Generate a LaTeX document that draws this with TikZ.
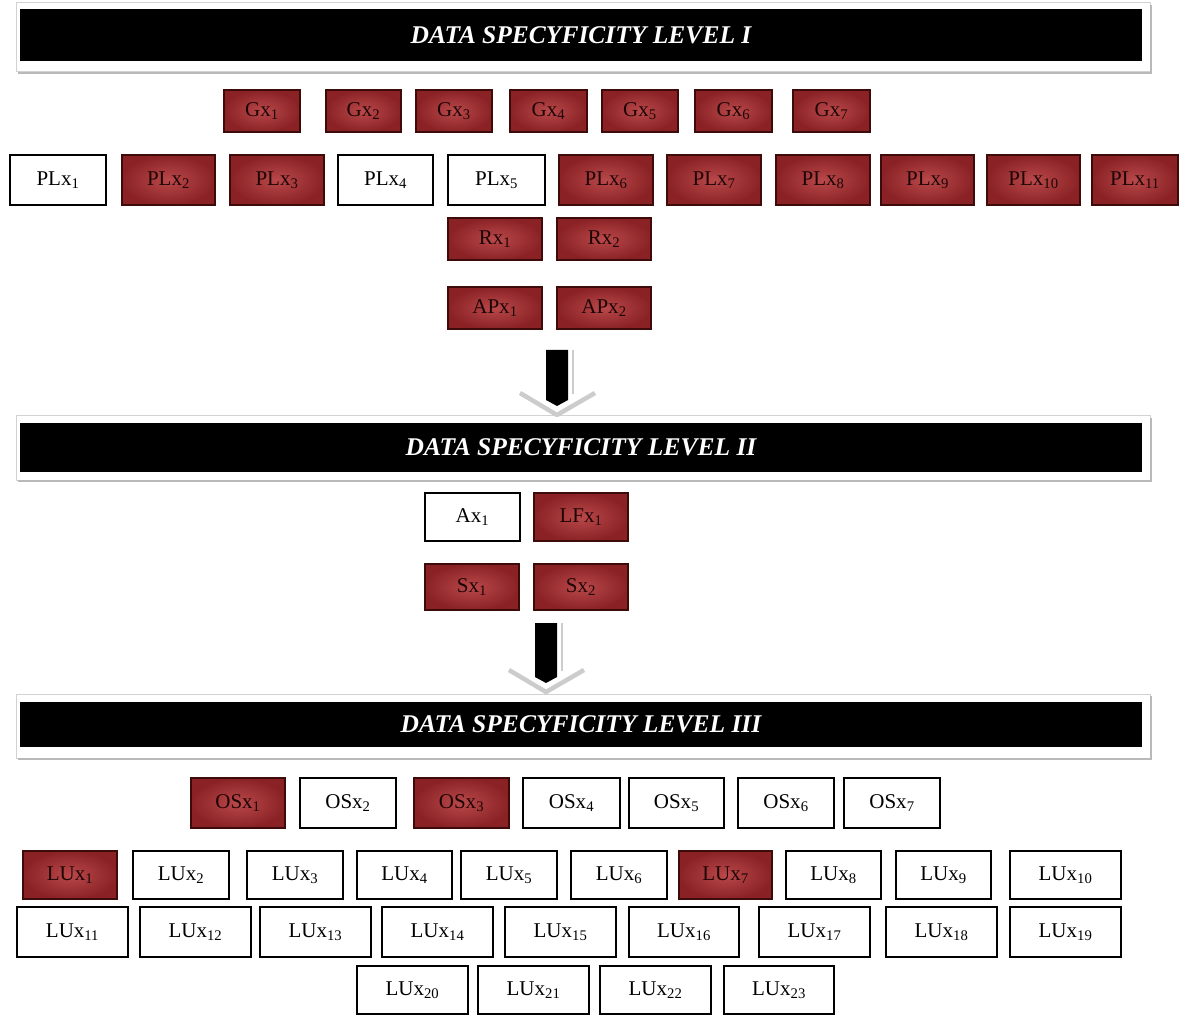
\documentclass[tikz,border=0pt]{standalone}
\usepackage{fontspec}
\setmainfont{Liberation Serif}
\definecolor{redin}{HTML}{B9484A}
\definecolor{redout}{HTML}{8A2225}
\definecolor{redline}{HTML}{3E0B0B}
\definecolor{redtext}{HTML}{1E0505}

\begin{document}
\begin{tikzpicture}[x=1pt,y=-1pt,
    box/.style={draw=black, line width=1.6pt, inner sep=0pt, fill=white,
        font=\fontsize{21}{24}\selectfont},
    redbox/.style={box, draw=redline, text=redtext, inner color=redin, outer color=redout},
    levelbar/.style={fill=black, text=white, inner sep=0pt, minimum width=1122pt,
        font=\fontsize{25.5}{29}\selectfont\bfseries\itshape},
    frame/.style={draw=gray!35, line width=1pt, fill=white},
    chevron/.style={draw=gray!40, line width=4.5pt, line join=round}]

    \useasboundingbox (0,0) rectangle (1179,1016);

    % Cadres des niveaux
    \foreach \t/\b in {3/72, 416/480, 694/758} {
        \draw[frame] (16,\t) rectangle (1150,\b);
        \draw[gray!55, line width=2pt] (18,{\b+1}) -- (1151,{\b+1}) -- (1151,{\t+2});
    }
    \node[levelbar, minimum height=52pt] (L1) at (581,35) {DATA SPECYFICITY LEVEL I};
    \node[levelbar, minimum height=49pt] (L2) at (581,447.5) {DATA SPECYFICITY LEVEL II};
    \node[levelbar, minimum height=45pt] (L3) at (581,724.5) {DATA SPECYFICITY LEVEL III};

    % Niveau I : Gx
    \foreach \i/\a/\b in {1/224/300, 2/326/401, 3/416/492, 4/510/587, 5/602/678, 6/695/772, 7/793/870}
        \node[redbox, minimum width={(\b-\a)*1pt}, minimum height=42pt] (G\i) at ({(\a+\b)/2},111) {Gx\textsubscript{\i}};

    % Niveau I : PLx
    \foreach \i/\a/\b/\s in {1/10/106/box, 2/122/215/redbox, 3/230/324/redbox, 4/338/433/box,
            5/448/545/box, 6/559/653/redbox, 7/667/761/redbox, 8/776/870/redbox,
            9/881/974/redbox, 10/987/1080/redbox, 11/1092/1178/redbox}
        \node[\s, minimum width={(\b-\a)*1pt}, minimum height=50pt] (PL\i) at ({(\a+\b)/2},180) {PLx\textsubscript{\i}};

    % Niveau I : Rx et APx
    \foreach \i/\a/\b in {1/448/542, 2/557/651} {
        \node[redbox, minimum width={(\b-\a)*1pt}, minimum height=42pt] (R\i) at ({(\a+\b)/2},239) {Rx\textsubscript{\i}};
        \node[redbox, minimum width={(\b-\a)*1pt}, minimum height=42pt] (AP\i) at ({(\a+\b)/2},308) {APx\textsubscript{\i}};
    }

    % Niveau II
    \node[box, minimum width=95pt, minimum height=48pt] (A1) at (472.5,517) {Ax\textsubscript{1}};
    \node[redbox, minimum width=94pt, minimum height=48pt] (LF1) at (581,517) {LFx\textsubscript{1}};
    \node[redbox, minimum width=94pt, minimum height=46pt] (S1) at (472,587) {Sx\textsubscript{1}};
    \node[redbox, minimum width=94pt, minimum height=46pt] (S2) at (581,587) {Sx\textsubscript{2}};

    % Flèches
    \foreach \x/\y/\l in {557/350/50, 546/623/54} {
        \begin{scope}[shift={(\x,\y)}]
            \draw[chevron] (-37,{\l-7}) -- (0,{\l+15}) -- (38,{\l-7});
            \draw[gray!40, line width=1.5pt] (16,0) -- (16,{\l-6});
            \fill[black] (-11,0) -- (11,0) -- (11,\l) -- (0,{\l+6}) -- (-11,\l) -- cycle;
        \end{scope}
    }

    % Niveau III : OSx
    \foreach \i/\a/\b/\s in {1/191/285/redbox, 2/300/396/box, 3/414/509/redbox, 4/523/620/box,
            5/629/724/box, 6/738/834/box, 7/844/940/box}
        \node[\s, minimum width={(\b-\a)*1pt}, minimum height=50pt] (OS\i) at ({(\a+\b)/2},803) {OSx\textsubscript{\i}};

    % Niveau III : LUx
    \foreach \i/\a/\b/\s in {1/23/117/redbox, 2/133/229/box, 3/247/343/box, 4/357/452/box,
            5/461/557/box, 6/571/667/box, 7/679/772/redbox, 8/786/881/box,
            9/896/991/box, 10/1010/1121/box}
        \node[\s, minimum width={(\b-\a)*1pt}, minimum height=48pt] (LU\i) at ({(\a+\b)/2},875) {LUx\textsubscript{\i}};
    \foreach \i/\a/\b in {11/17/128, 12/140/251, 13/260/371, 14/382/493, 15/505/616,
            16/629/739, 17/759/870, 18/886/997, 19/1010/1121}
        \node[box, minimum width={(\b-\a)*1pt}, minimum height=50pt] (LU\i) at ({(\a+\b)/2},932) {LUx\textsubscript{\i}};
    \foreach \i/\a/\b in {20/357/468, 21/478/589, 22/600/711, 23/724/834}
        \node[box, minimum width={(\b-\a)*1pt}, minimum height=48pt] (LU\i) at ({(\a+\b)/2},990) {LUx\textsubscript{\i}};

\end{tikzpicture}
\end{document}
